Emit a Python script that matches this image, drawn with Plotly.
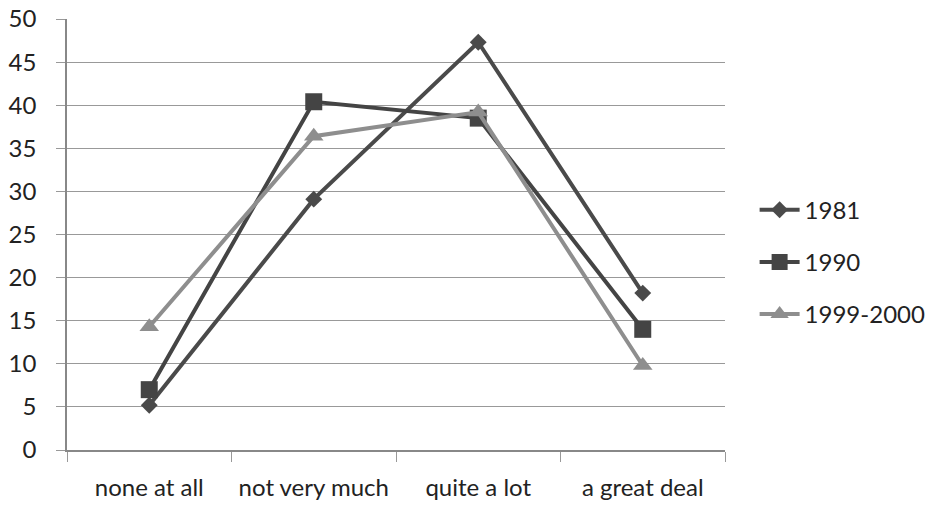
import plotly.graph_objects as go

categories = ["none at all", "not very much", "quite a lot", "a great deal"]
y_1981 = [5.2, 29.1, 47.3, 18.2]
y_1990 = [7.0, 40.4, 38.5, 14.0]
y_1999_2000 = [14.3, 36.4, 39.2, 9.8]
y_ticks = [0, 5, 10, 15, 20, 25, 30, 35, 40, 45, 50]

series = [
    ("1981", y_1981, "#4a4a4a", "diamond", 13),
    ("1990", y_1990, "#444444", "square", 17),
    ("1999-2000", y_1999_2000, "#8e8e8e", "triangle-up", 17),
]

fig = go.Figure()
for name, vals, color, symbol, size in series:
    fig.add_trace(go.Scatter(
        x=categories, y=vals, name=name, mode="lines+markers",
        legendgroup=name,
        line=dict(color=color, width=4),
        marker=dict(symbol=symbol, size=size, color=color, line=dict(width=0)),
    ))

family = "Lato, Open Sans, sans-serif"

fig.update_layout(
    width=947, height=509,
    margin=dict(l=67, r=222, t=19, b=59, autoexpand=False),
    paper_bgcolor="white", plot_bgcolor="white",
    font=dict(family=family, size=20, color="#222222"),
    showlegend=True,
    legend=dict(x=1.045, y=0.436, yanchor="middle", xanchor="left",
                font=dict(family=family, size=24, color="#222222"),
                itemwidth=40, tracegroupgap=18, bgcolor="rgba(0,0,0,0)"),
)
fig.update_xaxes(
    type="category", range=[-0.5, 3.5], tickson="boundaries", ticks="outside",
    ticklen=10, tickcolor="#999999", tickwidth=1.2, showline=True,
    linecolor="#888888", linewidth=1.5, showgrid=False, ticklabelstandoff=15,
    tickangle=0, automargin=False,
    tickfont=dict(family=family, size=24, color="#222222"),
)
fig.update_yaxes(
    range=[0, 50], tickvals=y_ticks, showgrid=True, gridcolor="#999999",
    gridwidth=1.2, showline=True, linecolor="#888888", linewidth=1.5,
    ticks="outside", ticklen=9, tickcolor="#999999", tickwidth=1.2,
    automargin=False, ticklabelstandoff=15,
    tickfont=dict(family=family, size=24, color="#222222"),
    zeroline=False,
)

fig.write_html("out.html")
